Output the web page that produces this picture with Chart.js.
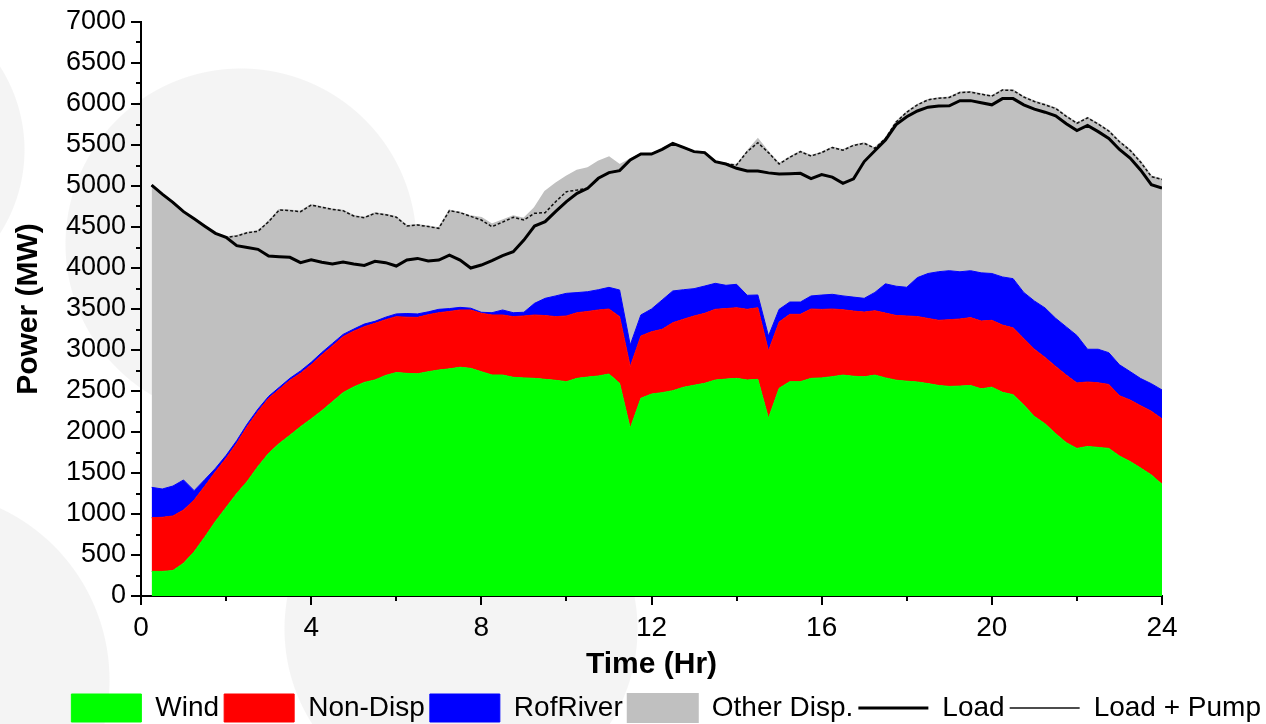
<!DOCTYPE html>
<html>
<head>
<meta charset="utf-8">
<title>Generation mix</title>
<script src="https://cdn.jsdelivr.net/npm/chart.js@4.4.1/dist/chart.umd.min.js"></script>
<style>
    html, body { margin: 0; padding: 0; }
    body {
        width: 1266px;
        height: 724px;
        overflow: hidden;
        background-color: #fff;
        /* faint watermark circles behind the chart */
        background-image:
            radial-gradient(circle 155px at -130px 150px, #f4f4f4 154px, rgba(244,244,244,0) 155px),
            radial-gradient(circle 176px at 241px 244px, #f4f4f4 175px, rgba(244,244,244,0) 176px),
            radial-gradient(circle 190px at -80px 680px, #f4f4f4 189px, rgba(244,244,244,0) 190px),
            radial-gradient(circle 177px at 461px 629px, #f4f4f4 176px, rgba(244,244,244,0) 177px);
    }
    canvas { display: block; }
</style>
</head>
<body>
<canvas id="genChart" width="1266" height="724" style="width:1266px;height:724px"></canvas>
<script>
// ============================================
// DATA (MW, every 15 minutes)
// ============================================

const hours = [
    0.25, 0.5, 0.75, 1, 1.25, 1.5, 1.75, 2, 2.25, 2.5, 2.75, 3,
    3.25, 3.5, 3.75, 4, 4.25, 4.5, 4.75, 5, 5.25, 5.5, 5.75, 6,
    6.25, 6.5, 6.75, 7, 7.25, 7.5, 7.75, 8, 8.25, 8.5, 8.75, 9,
    9.25, 9.5, 9.75, 10, 10.25, 10.5, 10.75, 11, 11.25, 11.5, 11.75, 12,
    12.25, 12.5, 12.75, 13, 13.25, 13.5, 13.75, 14, 14.25, 14.5, 14.75, 15,
    15.25, 15.5, 15.75, 16, 16.25, 16.5, 16.75, 17, 17.25, 17.5, 17.75, 18,
    18.25, 18.5, 18.75, 19, 19.25, 19.5, 19.75, 20, 20.25, 20.5, 20.75, 21,
    21.25, 21.5, 21.75, 22, 22.25, 22.5, 22.75, 23, 23.25, 23.5, 23.75, 24
];

const wind = [
    300, 300, 310, 400, 540, 720, 910, 1080, 1250, 1400, 1580, 1740,
    1860, 1960, 2065, 2160, 2260, 2370, 2480, 2550, 2605, 2635, 2690, 2725,
    2715, 2710, 2735, 2756, 2770, 2790, 2776, 2736, 2695, 2695, 2667, 2660,
    2654, 2642, 2630, 2614, 2654, 2670, 2683, 2707, 2594, 2045, 2411, 2463,
    2480, 2504, 2545, 2570, 2594, 2634, 2645, 2654, 2634, 2642, 2167, 2533,
    2614, 2614, 2654, 2660, 2675, 2694, 2680, 2673, 2694, 2660, 2632, 2620,
    2610, 2590, 2568, 2556, 2560, 2568, 2526, 2547, 2484, 2455, 2330, 2190,
    2100, 1980, 1870, 1800, 1824, 1812, 1800, 1707, 1640, 1560, 1476, 1363
];

const nonDisp = [
    655, 660, 666, 649, 631, 620, 606, 600, 612, 670, 670, 671,
    660, 670, 651, 660, 680, 680, 683, 680, 680, 690, 680, 682,
    685, 688, 695, 699, 700, 698, 712, 711, 732, 732, 740, 755,
    773, 778, 777, 801, 801, 800, 805, 793, 813, 752, 760, 760,
    772, 829, 830, 845, 853, 862, 860, 862, 862, 874, 821, 808,
    821, 821, 846, 835, 825, 797, 795, 789, 785, 790, 789, 795,
    798, 795, 794, 814, 818, 827, 828, 815, 820, 815, 810, 819,
    810, 820, 824, 798, 786, 788, 780, 736, 750, 760, 777, 798
];

const rofRiver = [
    370, 345, 365, 366, 114, 80, 41, 35, 33, 30, 30, 24,
    25, 25, 29, 30, 30, 30, 27, 25, 32, 25, 30, 33,
    45, 42, 35, 41, 35, 32, 22, 13, 28, 61, 48, 45,
    142, 210, 253, 276, 245, 241, 247, 264, 325, 264, 256, 277,
    358, 387, 360, 333, 333, 317, 284, 285, 171, 155, 183, 155,
    150, 150, 159, 175, 179, 169, 170, 168, 223, 357, 357, 350,
    475, 548, 593, 597, 576, 572, 587, 571, 587, 600, 562, 589,
    603, 587, 588, 579, 399, 409, 387, 377, 347, 332, 336, 352
];

const otherDisp = [
    3685, 3595, 3459, 3272, 3315, 3090, 2866, 2659, 2495, 2330, 2167, 2130,
    2162, 2045, 1942, 1918, 1770, 1635, 1509, 1379, 1297, 1317, 1250, 1180,
    1067, 1084, 1040, 988, 1194, 1155, 1120, 1150, 1075, 1092, 1175, 1140,
    1159, 1301, 1370, 1423, 1487, 1505, 1562, 1586, 1524, 2264, 1963, 1890,
    1837, 1800, 1735, 1671, 1627, 1484, 1479, 1455, 1753, 1899, 2236, 1772,
    1765, 1834, 1707, 1737, 1791, 1777, 1850, 1891, 1758, 1773, 2002, 2135,
    2107, 2117, 2115, 2113, 2186, 2178, 2179, 2162, 2279, 2295, 2383, 2432,
    2477, 2558, 2568, 2588, 2821, 2746, 2703, 2720, 2698, 2638, 2526, 2567
];

const load = [
    5010, 4900, 4800, 4687, 4600, 4510, 4423, 4374, 4272, 4250, 4228, 4146,
    4138, 4130, 4065, 4100, 4070, 4049, 4073, 4050, 4032, 4081, 4065, 4024,
    4097, 4117, 4085, 4097, 4158, 4097, 4000, 4036, 4090, 4150, 4199, 4341,
    4512, 4565, 4690, 4809, 4911, 4972, 5094, 5163, 5187, 5317, 5390, 5390,
    5447, 5520, 5470, 5419, 5407, 5297, 5268, 5216, 5183, 5183, 5160, 5146,
    5150, 5154, 5089, 5140, 5108, 5033, 5088, 5298, 5430, 5562, 5748, 5844,
    5915, 5961, 5975, 5978, 6041, 6041, 6015, 5990, 6066, 6066, 5990, 5937,
    5900, 5856, 5760, 5676, 5739, 5663, 5579, 5445, 5340, 5193, 5016, 4974
];

const loadPump = [
    5010, 4900, 4800, 4687, 4600, 4510, 4423, 4374, 4390, 4430, 4447, 4565,
    4707, 4700, 4687, 4768, 4740, 4715, 4699, 4634, 4614, 4667, 4650, 4620,
    4512, 4524, 4505, 4484, 4699, 4675, 4630, 4585, 4504, 4560, 4618, 4585,
    4667, 4675, 4810, 4931, 4950, 4972, 5094, 5163, 5187, 5317, 5390, 5390,
    5447, 5520, 5470, 5419, 5407, 5297, 5268, 5256, 5420, 5528, 5407, 5268,
    5350, 5419, 5366, 5407, 5470, 5437, 5495, 5521, 5460, 5580, 5780, 5900,
    5990, 6050, 6070, 6080, 6140, 6145, 6120, 6095, 6170, 6165, 6085, 6030,
    5990, 5945, 5850, 5765, 5830, 5755, 5670, 5540, 5435, 5290, 5115, 5080
];

const xTicks = [0, 4, 8, 12, 16, 20, 24];
const yTicks = [0, 500, 1000, 1500, 2000, 2500, 3000, 3500, 4000, 4500, 5000, 5500, 6000, 6500, 7000];

// ============================================
// HELPERS
// ============================================

const FONT = '"Liberation Sans", Arial, Helvetica, sans-serif';
Chart.defaults.font.family = FONT;
Chart.defaults.color = '#000';

function toPoints(values) {
    return values.map((v, i) => ({ x: hours[i], y: v }));
}

function areaSet(label, values, color, fill) {
    return {
        label: label,
        data: toPoints(values),
        backgroundColor: color,
        borderColor: color,
        borderWidth: 1,
        fill: fill,
        stack: 'gen',
        order: 2,
        pointRadius: 0,
        pointStyle: 'rect',
        tension: 0
    };
}

// Outward major / minor tick marks on both axes
const axisTicks = {
    id: 'axisTicks',
    afterDraw(chart) {
        const { ctx, chartArea, scales } = chart;
        const x = scales.x, y = scales.y;
        ctx.save();
        ctx.strokeStyle = '#000';
        ctx.lineWidth = 2;
        ctx.beginPath();
        for (let h = 0; h <= 24; h += 2) {
            const px = Math.round(x.getPixelForValue(h));
            const len = xTicks.includes(h) ? 9 : 5;
            ctx.moveTo(px, chartArea.bottom);
            ctx.lineTo(px, chartArea.bottom + len);
        }
        for (let v = 0; v <= 7000; v += 250) {
            const py = Math.round(y.getPixelForValue(v));
            const len = yTicks.includes(v) ? 10 : 5;
            ctx.moveTo(chartArea.left, py);
            ctx.lineTo(chartArea.left - len, py);
        }
        ctx.stroke();
        ctx.restore();
    }
};

// ============================================
// CHART
// ============================================

document.addEventListener('DOMContentLoaded', function() {
    const ctx = document.getElementById('genChart').getContext('2d');
    window.genChart = new Chart(ctx, {
        type: 'line',
        data: {
            datasets: [
                areaSet('Wind', wind, '#00ff00', 'origin'),
                areaSet('Non-Disp', nonDisp, '#ff0000', '-1'),
                areaSet('RofRiver', rofRiver, '#0000ff', '-1'),
                Object.assign(areaSet('Other Disp.', otherDisp, '#c0c0c0', '-1'), { borderWidth: 2 }),
                {
                    label: 'Load',
                    data: toPoints(load),
                    borderColor: '#000',
                    borderWidth: 3,
                    fill: false,
                    stack: 'load',
                    order: 0,
                    pointRadius: 0,
                    pointStyle: 'line',
                    tension: 0
                },
                {
                    label: 'Load + Pump',
                    data: toPoints(loadPump),
                    borderColor: '#111',
                    borderWidth: 1.5,
                    borderDash: [3, 2],
                    fill: false,
                    stack: 'pump',
                    order: 1,
                    pointRadius: 0,
                    pointStyle: 'line',
                    tension: 0
                }
            ]
        },
        options: {
            responsive: false,
            animation: false,
            devicePixelRatio: 1,
            layout: {
                padding: { top: 22, left: 0, right: 0, bottom: -8 }
            },
            plugins: {
                tooltip: { enabled: false },
                legend: {
                    position: 'bottom',
                    align: 'end',
                    labels: {
                        usePointStyle: true,
                        pointStyleWidth: 70,
                        boxHeight: 28,
                        padding: 5,
                        color: '#000',
                        font: { size: 28 },
                        sort: (a, b) => a.datasetIndex - b.datasetIndex
                    }
                }
            },
            scales: {
                x: {
                    type: 'linear',
                    min: 0,
                    max: 24,
                    ticks: {
                        stepSize: 4,
                        padding: 15,
                        color: '#000',
                        font: { size: 28 },
                        callback: v => String(v)
                    },
                    grid: { display: false, drawTicks: false },
                    border: { display: true, color: '#000', width: 2 },
                    title: {
                        display: true,
                        text: 'Time (Hr)',
                        color: '#000',
                        font: { size: 30, weight: 'bold' },
                        padding: { top: 0, bottom: 6 }
                    },
                    afterFit(scale) { scale.height = 93; }
                },
                y: {
                    stacked: true,
                    min: 0,
                    max: 7000,
                    ticks: {
                        stepSize: 500,
                        padding: 15,
                        color: '#000',
                        font: { size: 27 },
                        callback: v => String(v)
                    },
                    grid: { display: false, drawTicks: false },
                    border: { display: true, color: '#000', width: 2 },
                    title: {
                        display: true,
                        text: 'Power (MW)',
                        color: '#000',
                        font: { size: 30, weight: 'bold' },
                        padding: { top: 11, bottom: 0 }
                    },
                    afterFit(scale) {
                        scale.width = 141;
                        scale.paddingTop = 0;
                        scale.paddingBottom = 0;
                    }
                },
                yRight: {
                    position: 'right',
                    display: true,
                    ticks: { display: false },
                    grid: { display: false, drawTicks: false },
                    border: { display: false },
                    afterFit(scale) { scale.width = 104; }
                }
            }
        },
        plugins: [axisTicks]
    });
});
</script>
</body>
</html>
